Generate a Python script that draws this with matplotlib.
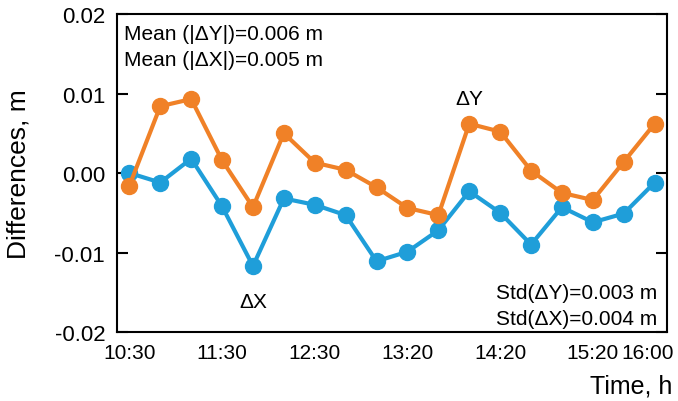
import matplotlib
matplotlib.use("Agg")
import matplotlib.pyplot as plt
import matplotlib.transforms as mtransforms
import numpy as np

plt.rcParams['font.family'] = ['Liberation Sans', 'DejaVu Sans']

# Data
n_points = 18
dX = [0.0000, -0.0012, 0.0018, -0.0042, -0.0117, -0.0032, -0.0040, -0.0053, -0.0111,
      -0.0099, -0.0072, -0.0023, -0.0050, -0.0090, -0.0043, -0.0062, -0.0051, -0.0012]
dY = [-0.0016, 0.0084, 0.0093, 0.0016, -0.0043, 0.0050, 0.0013, 0.0004, -0.0018,
      -0.0044, -0.0053, 0.0062, 0.0052, 0.0003, -0.0025, -0.0034, 0.0014, 0.0062]
tick_idx = [0, 3, 6, 9, 12, 15, 17]
tick_labels = ["10:30", "11:30", "12:30", "13:20", "14:20", "15:20", "16:00"]
yticks = [-0.02, -0.01, 0.00, 0.01, 0.02]
ytick_labels = ["-0.02", "-0.01", "0.00", "0.01", "0.02"]

blue = "#1f9ed9"
orange = "#f08127"

fig = plt.figure(figsize=(6.78, 4.02), dpi=100)
ax = fig.add_axes([0.1726, 0.1716, 0.8112, 0.7911])

x = np.arange(n_points)
ax.plot(x, dX, color=blue, lw=3, marker='o', ms=11.5, zorder=3)
ax.plot(x, dY, color=orange, lw=3, marker='o', ms=11.5, zorder=4)

ax.set_xlim(-0.4, 17.4)
ax.set_ylim(-0.02, 0.02)
ax.set_yticks(yticks)
ax.set_yticklabels(ytick_labels, fontsize=16)
ax.set_xticks(tick_idx)
ax.set_xticklabels(tick_labels, fontsize=15)
ax.tick_params(axis='y', direction='in', length=8, width=1.5, right=True, pad=8.5)
ax.tick_params(axis='x', length=0, pad=8)
for s in ax.spines.values():
    s.set_linewidth(1.5)

# shift last x tick label a little to the left so it fits in the figure
last = ax.get_xticklabels()[-1]
last.set_transform(last.get_transform() +
                   mtransforms.ScaledTranslation(-5 / 72, 0, fig.dpi_scale_trans))

ax.set_ylabel("Differences, m", fontsize=19, labelpad=17)
ax.set_xlabel("Time, h", fontsize=18)
ax.xaxis.set_label_coords(1.009, -0.13)
ax.xaxis.label.set_horizontalalignment('right')

ax.text(0.012, 0.968, "Mean (|\u0394Y|)=0.006 m\nMean (|\u0394X|)=0.005 m",
        transform=ax.transAxes, ha='left', va='top', fontsize=15, linespacing=1.45)
ax.text(0.983, 0.012, "Std(\u0394Y)=0.003 m\nStd(\u0394X)=0.004 m",
        transform=ax.transAxes, ha='right', va='bottom', fontsize=15, linespacing=1.45)
ax.annotate("\u0394X", xy=(4, dX[4]), xytext=(0, -19), textcoords='offset points',
            ha='center', va='top', fontsize=15)
ax.annotate("\u0394Y", xy=(11, dY[11]), xytext=(0, 11), textcoords='offset points',
            ha='center', va='bottom', fontsize=15)

fig.savefig("out.png", dpi=100)
